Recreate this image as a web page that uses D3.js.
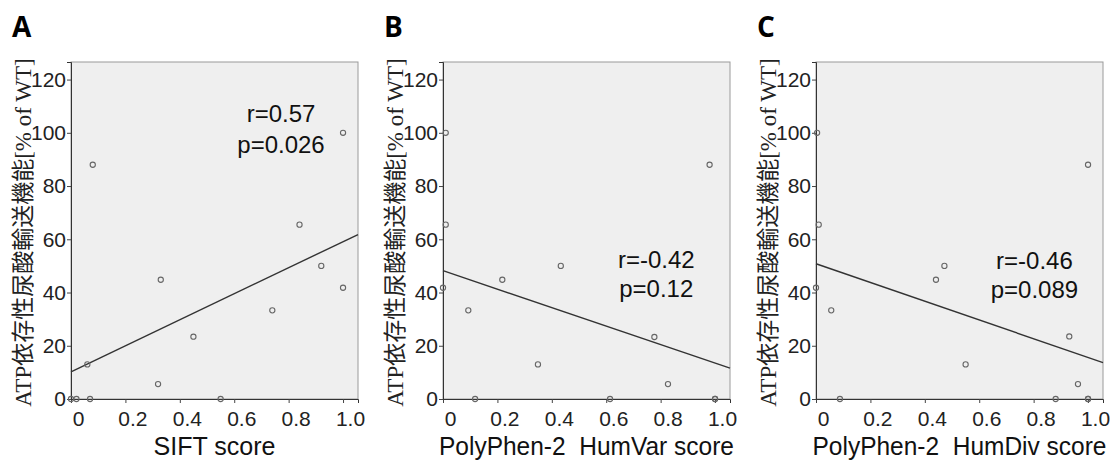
<!DOCTYPE html>
<html>
<head>
<meta charset="utf-8">
<script src="https://cdn.jsdelivr.net/npm/d3@7"></script>
<style>
  body { margin: 0; background: #fff; }
  svg { display: block; }
</style>
</head>
<body>
<svg id="chart" width="1115" height="462"></svg>
<script>
// data: x = prediction score, y = ATP-dependent urate transport (% of WT)
const siftScore = [0.08, 1.0, 0.84, 0.92, 1.0, 0.74, 0.33, 0.45, 0.32, 0.06, 0.55, 0.0, 0.02, 0.07];
const siftFunc  = [88, 100, 65.5, 50, 41.8, 33.3, 44.8, 23.4, 5.6, 13, 0, 0, 0, 0];

const humvarScore = [0.01, 0.98, 0.01, 0.433, 0.218, 0.0, 0.093, 0.777, 0.349, 0.827, 0.118, 0.614, 1.0, 1.0];
const humvarFunc  = [100, 88, 65.5, 50, 44.8, 41.8, 33.3, 23.3, 13, 5.6, 0, 0, 0, 0];

const humdivScore = [0.004, 1.0, 0.01, 0.472, 0.441, 0.0, 0.056, 0.931, 0.55, 0.963, 0.088, 0.881, 1.0, 1.0];
const humdivFunc  = [100, 88, 65.5, 50, 44.8, 41.8, 33.3, 23.5, 13, 5.6, 0, 0, 0, 0];

const panelLetters = ["A", "B", "C"];
const xTitles = ["SIFT score", "PolyPhen-2\u00a0\u00a0HumVar score", "PolyPhen-2\u00a0\u00a0HumDiv score"];
const rTexts = ["r=0.57", "r=-0.42", "r=-0.46"];
const pTexts = ["p=0.026", "p=0.12", "p=0.089"];
// fitted line (intercept, slope) as drawn
const intercepts = [10.2, 48.2, 50.8];
const slopes = [48.9, -34.7, -35.2];
// where the r / p labels sit, in data units [x, y of r line, y of p line]
const labelPos = [[0.772, 103.9, 92.6], [0.784, 49.2, 38.3], [0.803, 48.8, 37.9]];

const xTicks = [0, 0.2, 0.4, 0.6, 0.8, 1.0];
const yTicks = [0, 20, 40, 60, 80, 100, 120];
const yTitle = "ATP依存性尿酸輸送機能[% of WT]";

// the original type is set narrow, so titles get squeezed to the measured width
const titleWidths = [122, 295, 294];

const panels = [
  { xs: siftScore, ys: siftFunc, left: 71 },
  { xs: humvarScore, ys: humvarFunc, left: 443 },
  { xs: humdivScore, ys: humdivFunc, left: 816 }
];

const plotTop = 62, w = 287, h = 337;
const xMax = 1.055, yMax = 126.6;
const sans = "'Liberation Sans', Arial, sans-serif";

const svg = d3.select("#chart");

panels.forEach((p, i) => {
  const g = svg.append("g").attr("transform", `translate(${p.left}, ${plotTop})`);

  const x = d3.scaleLinear().domain([0, xMax]).range([0, w]);
  const y = d3.scaleLinear().domain([0, yMax]).range([h, 0]);

  g.append("rect")
    .attr("width", w).attr("height", h)
    .attr("fill", "#efefef")
    .attr("stroke", "#9a9a9a").attr("stroke-width", 1);

  // axes
  const xAxis = g.append("g")
    .attr("transform", `translate(0, ${h})`)
    .call(d3.axisBottom(x).tickValues(xTicks).tickSize(4).tickPadding(8)
      .tickFormat(d => d === 0 ? "0" : d3.format(".1f")(d)));
  xAxis.select(".domain").attr("stroke", "#333");
  xAxis.selectAll(".tick line").attr("stroke", "#444");
  xAxis.selectAll(".tick text")
    .attr("dx", 7)
    .style("font-family", sans).style("font-size", "21px").attr("fill", "#222");

  const yAxis = g.append("g")
    .call(d3.axisLeft(y).tickValues(yTicks).tickSize(4).tickPadding(1));
  yAxis.select(".domain").attr("stroke", "#333");
  yAxis.selectAll(".tick line").attr("stroke", "#444");
  yAxis.selectAll(".tick text")
    .style("font-family", sans).style("font-size", "21px").attr("fill", "#222");

  // regression line
  g.append("line")
    .attr("x1", x(0)).attr("y1", y(intercepts[i]))
    .attr("x2", x(xMax)).attr("y2", y(intercepts[i] + slopes[i] * xMax))
    .attr("stroke", "#333").attr("stroke-width", 1.4);

  // points
  g.selectAll("circle")
    .data(p.xs.map((d, k) => ({ x: d, y: p.ys[k] })))
    .enter()
    .append("circle")
    .attr("cx", d => x(d.x))
    .attr("cy", d => y(d.y))
    .attr("r", 2.6)
    .attr("fill", "none")
    .attr("stroke", "#666")
    .attr("stroke-width", 1.1);

  // r / p annotation
  const lp = labelPos[i];
  g.append("text")
    .attr("x", x(lp[0])).attr("y", y(lp[1]))
    .attr("text-anchor", "middle")
    .style("font-family", sans).style("font-size", "24px").attr("fill", "#111")
    .text(rTexts[i]);
  g.append("text")
    .attr("x", x(lp[0])).attr("y", y(lp[2]))
    .attr("text-anchor", "middle")
    .style("font-family", sans).style("font-size", "24px").attr("fill", "#111")
    .text(pTexts[i]);

  // x title
  g.append("text")
    .attr("x", w / 2).attr("y", h + 56)
    .attr("text-anchor", "middle")
    .attr("textLength", titleWidths[i])
    .attr("lengthAdjust", "spacingAndGlyphs")
    .style("font-family", sans).style("font-size", "25px").attr("fill", "#111")
    .text(xTitles[i]);

  // y title
  g.append("text")
    .attr("transform", `translate(-48, ${h / 2 + 2}) rotate(-90)`)
    .attr("text-anchor", "middle")
    .attr("dy", "0.35em")
    .style("font-family", "'Liberation Serif', 'Noto Sans CJK JP', serif")
    .style("font-size", "23px").attr("fill", "#222")
    .text(yTitle);

  // panel letter
  svg.append("text")
    .attr("x", p.left - 59).attr("y", 37)
    .style("font-family", "'Open Sans', 'Liberation Sans', sans-serif")
    .style("font-weight", "700").style("font-size", "28px").attr("fill", "#000")
    .text(panelLetters[i]);
});
</script>
</body>
</html>
